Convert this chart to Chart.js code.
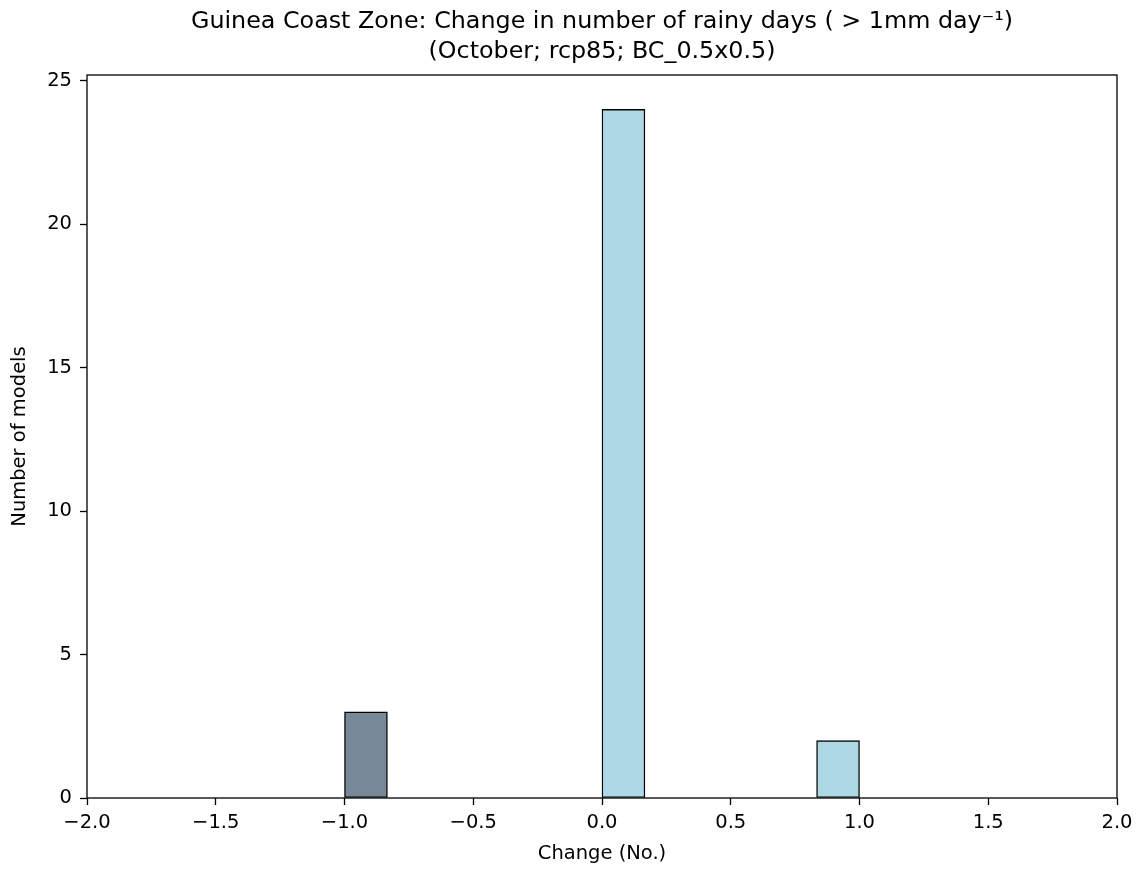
<!DOCTYPE html>
<html>
<head>
<meta charset="utf-8">
<script src="https://cdn.jsdelivr.net/npm/chart.js@4/dist/chart.umd.min.js"></script>
<style>
  html, body { margin: 0; padding: 0; background: #fff; }
  canvas { display: block; }
</style>
</head>
<body>
<canvas id="hist" width="1140" height="869"></canvas>
<script>
// histogram bins (12 bins between -1 and 1), counts per bin
const binEdges = [-1, -5/6, -4/6, -3/6, -2/6, -1/6, 0, 1/6, 2/6, 3/6, 4/6, 5/6, 1];
const counts = [3, 0, 0, 0, 0, 0, 24, 0, 0, 0, 0, 2];
const binColors = ['#778899', '#add8e6', '#add8e6', '#add8e6', '#add8e6', '#add8e6',
                   '#add8e6', '#add8e6', '#add8e6', '#add8e6', '#add8e6', '#add8e6'];
const xTicks = [-2.0, -1.5, -1.0, -0.5, 0.0, 0.5, 1.0, 1.5, 2.0];
const yTicks = [0, 5, 10, 15, 20, 25];
const titleLines = ['Guinea Coast Zone: Change in number of rainy days ( > 1mm day\u207B\u00B9)',
                    '(October; rcp85; BC_0.5x0.5)'];

const centers = counts.map((_, i) => (binEdges[i] + binEdges[i + 1]) / 2);
const FONT = "'DejaVu Sans', sans-serif";

// draws the full axes box (matplotlib spines) on top of the bars
const frame = {
  id: 'frame',
  afterDatasetsDraw(chart) {
    const {ctx, chartArea: a} = chart;
    ctx.save();
    ctx.strokeStyle = '#000';
    ctx.lineWidth = 1.3;
    ctx.strokeRect(a.left, a.top, a.right - a.left, a.bottom - a.top);
    ctx.restore();
  }
};

// title centred over the axes, like matplotlib does
const axesTitle = {
  id: 'axesTitle',
  afterDraw(chart) {
    const {ctx, chartArea: a} = chart;
    const cx = (a.left + a.right) / 2;
    ctx.save();
    ctx.fillStyle = '#000';
    ctx.font = '23.8px ' + FONT;
    ctx.textAlign = 'center';
    ctx.textBaseline = 'middle';
    titleLines.forEach((t, i) => ctx.fillText(t, cx, 22 + i * 30));
    ctx.restore();
  }
};

const ctx = document.getElementById('hist').getContext('2d');
new Chart(ctx, {
  type: 'bar',
  data: {
    datasets: [{
      data: centers.map((c, i) => ({x: c, y: counts[i]})),
      backgroundColor: binColors,
      borderColor: '#000',
      borderWidth: 1.4,
      borderSkipped: false,
      barPercentage: 1,
      categoryPercentage: 1
    }]
  },
  options: {
    responsive: false,
    animation: false,
    devicePixelRatio: 1,
    layout: { padding: { left: 0, right: 23, top: 75, bottom: 0 } },
    plugins: {
      legend: { display: false },
      tooltip: { enabled: false },
      title: { display: false }
    },
    scales: {
      x: {
        type: 'linear',
        min: -2, max: 2,
        offset: false,
        afterBuildTicks: s => { s.ticks = xTicks.map(v => ({value: v})); },
        afterFit: s => { s.height = 71; },
        ticks: {
          color: '#000',
          padding: 6,
          maxRotation: 0,
          font: { family: FONT, size: 19.5 },
          callback: v => Number(v).toFixed(1).replace('-', '\u2212')
        },
        grid: { display: true, drawOnChartArea: false, drawTicks: true, tickLength: 7,
                tickWidth: 1.3, tickColor: '#000', offset: false },
        border: { display: false },
        title: { display: true, text: 'Change (No.)', color: '#000',
                 font: { family: FONT, size: 19.5 }, padding: { top: 0, bottom: 3 } }
      },
      y: {
        min: 0, max: 25.2,
        afterBuildTicks: s => { s.ticks = yTicks.map(v => ({value: v})); },
        afterFit: s => { s.width = 87; },
        ticks: {
          color: '#000',
          padding: 8,
          font: { family: FONT, size: 19.5 },
          callback: v => String(v)
        },
        grid: { display: true, drawOnChartArea: false, drawTicks: true, tickLength: 7,
                tickWidth: 1.3, tickColor: '#000' },
        border: { display: false },
        title: { display: true, text: 'Number of models', color: '#000',
                 font: { family: FONT, size: 19.5 }, padding: { top: 8, bottom: 0 } }
      }
    }
  },
  plugins: [frame, axesTitle]
});
</script>
</body>
</html>
